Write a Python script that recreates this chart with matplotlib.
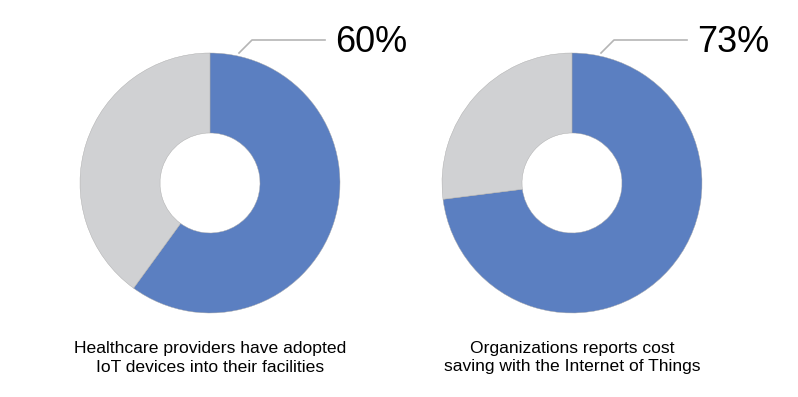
import matplotlib.pyplot as plt

plt.rcParams['font.family'] = ['Liberation Sans', 'DejaVu Sans']

# data
shares = [60, 73]
labels = ["60%", "73%"]
captions = ["Healthcare providers have adopted\nIoT devices into their facilities",
            "Organizations reports cost\nsaving with the Internet of Things"]

blue = "#5b7fc1"
grey = "#d0d1d3"
W, H = 798, 397

fig = plt.figure(figsize=(W / 100, H / 100), dpi=100)
ax = fig.add_axes([0, 0, 1, 1])

centers = [(210, H - 183), (572, H - 183)]
for i, (cx, cy) in enumerate(centers):
    v = shares[i]
    ax.pie([v, 100 - v], colors=[blue, grey], startangle=90, counterclock=False,
           center=(cx, cy), radius=130, frame=True,
           wedgeprops=dict(width=80, edgecolor='#a8a8a8', linewidth=0.3))
    # leader line
    ax.plot([cx + 29, cx + 42, cx + 115], [H - 53, H - 40, H - 40],
            color='#b5b5b5', lw=1.2)
    ax.text(cx + 125, H - 43, labels[i], fontsize=26, ha='left', va='center')
    ax.text(cx, H - 358, captions[i], fontsize=12.6, ha='center', va='center',
            linespacing=1.25)

ax.set_xlim(0, W)
ax.set_ylim(0, H)
ax.set_aspect('equal')
ax.axis('off')
fig.savefig("out.png", dpi=100)
